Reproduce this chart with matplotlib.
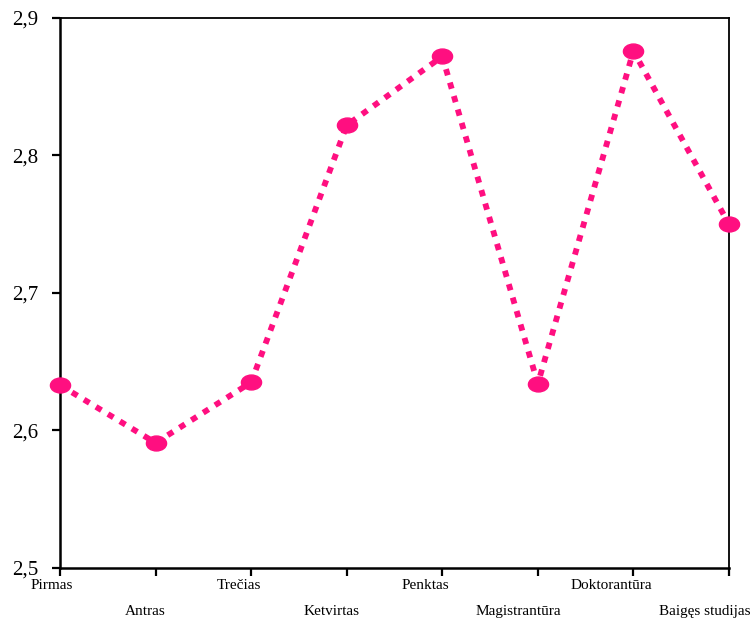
import matplotlib
matplotlib.use("Agg")
import matplotlib.pyplot as plt
from matplotlib.path import Path
from matplotlib.transforms import Affine2D, blended_transform_factory
import numpy as np

categories = ["Pirmas", "Antras", "Trečias", "Ketvirtas", "Penktas",
              "Magistrantūra", "Doktorantūra", "Baigęs studijas"]
values = [2.633, 2.591, 2.635, 2.822, 2.872, 2.634, 2.876, 2.750]
yticks = [2.5, 2.6, 2.7, 2.8, 2.9]
ytick_labels = ["2,5", "2,6", "2,7", "2,8", "2,9"]

plt.rcParams['font.family'] = ['Liberation Serif', 'DejaVu Serif']

fig = plt.figure(figsize=(7.52, 6.2), dpi=100)
ax = fig.add_axes([0.0798, 0.0839, 0.9694 - 0.0798, 0.971 - 0.0839])

ellipse = Path.unit_circle().transformed(Affine2D().scale(1.35, 1.0))
color = "#FF0F80"
x = np.arange(len(categories))
ax.plot(x, values, color=color, linewidth=4.2, linestyle=(0, (1.1, 1.3)),
        marker=ellipse, markersize=14.5, markerfacecolor=color,
        markeredgecolor=color, clip_on=False, zorder=3)

ax.set_xlim(0, len(categories) - 1)
ax.set_ylim(2.5, 2.9)
ax.set_yticks(yticks)
ax.set_yticklabels(ytick_labels, fontsize=15)
ax.set_xticks(x)
ax.set_xticklabels([])

# category labels: staggered in two rows, slightly compressed like the original
trans = blended_transform_factory(ax.transData, ax.transAxes)
for i, c in enumerate(categories):
    xpos = -0.084 + i * 0.976
    ypos = -0.031 if i % 2 == 0 else -0.080
    ax.text(xpos, ypos, c, transform=trans, ha="center", va="center",
            fontsize=11)

for s in ["left", "bottom"]:
    ax.spines[s].set_linewidth(1.8)
for s in ["top", "right"]:
    ax.spines[s].set_linewidth(1.3)
ax.tick_params(axis="both", direction="out", length=5.5, width=1.6, colors="black")
ax.tick_params(axis="y", pad=10)

fig.savefig("out.png", dpi=100)
